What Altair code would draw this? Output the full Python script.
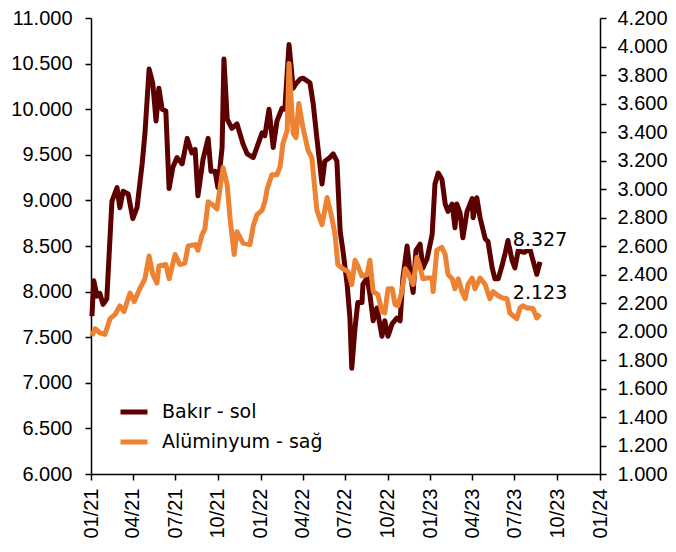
import altair as alt
import pandas as pd

# Copper (Bakır) - left axis, USD/ton
copper_dates = [
    "2021-01-03", "2021-01-07", "2021-01-14", "2021-01-20", "2021-01-27", "2021-02-04", "2021-02-15",
    "2021-02-26", "2021-03-04", "2021-03-11", "2021-03-22", "2021-04-01", "2021-04-10", "2021-04-21",
    "2021-04-27", "2021-05-06", "2021-05-14", "2021-05-21", "2021-05-27", "2021-06-03", "2021-06-11",
    "2021-06-18", "2021-06-26", "2021-07-05", "2021-07-16", "2021-07-27", "2021-08-06", "2021-08-13",
    "2021-08-19", "2021-08-30", "2021-09-10", "2021-09-16", "2021-09-25", "2021-10-01", "2021-10-10",
    "2021-10-14", "2021-10-21", "2021-10-31", "2021-11-11", "2021-11-24", "2021-12-03", "2021-12-16",
    "2022-01-04", "2022-01-10", "2022-01-19", "2022-01-28", "2022-02-05", "2022-02-16", "2022-02-22",
    "2022-03-03", "2022-03-12", "2022-03-18", "2022-03-27", "2022-04-02", "2022-04-11", "2022-04-17",
    "2022-04-24", "2022-05-02", "2022-05-13", "2022-05-19", "2022-05-30", "2022-06-06", "2022-06-14",
    "2022-06-21", "2022-06-27", "2022-07-06", "2022-07-12", "2022-07-16", "2022-07-23", "2022-07-29",
    "2022-08-07", "2022-08-09", "2022-08-18", "2022-08-24", "2022-08-31", "2022-09-08", "2022-09-19",
    "2022-09-25", "2022-10-02", "2022-10-11", "2022-10-21", "2022-10-28", "2022-11-03", "2022-11-12",
    "2022-11-18", "2022-11-25", "2022-12-01", "2022-12-10", "2022-12-16", "2022-12-25", "2023-01-05",
    "2023-01-11", "2023-01-18", "2023-01-26", "2023-02-02", "2023-02-08", "2023-02-17", "2023-02-23",
    "2023-02-27", "2023-03-06", "2023-03-12", "2023-03-21", "2023-04-01", "2023-04-03", "2023-04-11",
    "2023-04-18", "2023-04-29", "2023-05-05", "2023-05-14", "2023-05-20", "2023-05-27", "2023-06-04",
    "2023-06-11", "2023-06-17", "2023-06-26", "2023-07-02", "2023-07-09", "2023-07-15", "2023-07-22",
    "2023-08-03", "2023-08-10", "2023-08-18", "2023-08-25",
]
copper_values = [
    7730, 8120, 7950, 7980, 7860, 7920, 8990,
    9140, 8920, 9100, 9070, 8800, 8920, 9400,
    9730, 10440, 10280, 9870, 10230, 10000, 9980,
    9130, 9360, 9470, 9400, 9680, 9520, 9560,
    9050, 9450, 9680, 9320, 9320, 9140, 9580,
    10550, 9890, 9790, 9840, 9620, 9510, 9470,
    9740, 9710, 10000, 9580, 9870, 10010, 10000,
    10710, 10230, 10280, 10330, 10340, 10310, 10290,
    10060, 9680, 9180, 9430, 9470, 9510, 9430,
    8660, 8450, 8080, 7710, 7160, 7600, 7880,
    7880, 8080, 8150, 7970, 7680, 7820, 7510,
    7680, 7510, 7650, 7710, 7680, 8150, 8500,
    8230, 7990, 8450, 8520, 8260, 8360, 8630,
    9180, 9300, 9230, 8960, 8880, 8960, 8700,
    8960, 8860, 8590, 8880, 9020, 8810, 9030,
    8810, 8580, 8550, 8260, 8140, 8140, 8280,
    8420, 8560, 8340, 8260, 8450, 8440, 8430,
    8470, 8340, 8190, 8327,
]

# Aluminium (Alüminyum) - right axis, USD/ton
alu_dates = [
    "2021-01-03", "2021-01-10", "2021-01-20", "2021-01-31", "2021-02-11", "2021-02-22", "2021-03-04",
    "2021-03-13", "2021-03-26", "2021-04-04", "2021-04-16", "2021-04-27", "2021-05-06", "2021-05-14",
    "2021-05-23", "2021-05-27", "2021-06-11", "2021-06-18", "2021-07-01", "2021-07-11", "2021-07-22",
    "2021-07-29", "2021-08-13", "2021-08-19", "2021-08-28", "2021-09-03", "2021-09-10", "2021-09-14",
    "2021-09-20", "2021-09-29", "2021-10-12", "2021-10-21", "2021-10-27", "2021-10-31", "2021-11-05",
    "2021-11-11", "2021-11-24", "2021-12-09", "2021-12-16", "2021-12-24", "2022-01-04", "2022-01-10",
    "2022-01-15", "2022-01-25", "2022-02-05", "2022-02-12", "2022-02-18", "2022-02-27", "2022-03-03",
    "2022-03-12", "2022-03-18", "2022-03-24", "2022-04-02", "2022-04-13", "2022-04-21", "2022-05-02",
    "2022-05-13", "2022-05-24", "2022-06-03", "2022-06-10", "2022-06-16", "2022-06-27", "2022-07-08",
    "2022-07-16", "2022-07-23", "2022-07-29", "2022-08-07", "2022-08-18", "2022-08-24", "2022-08-31",
    "2022-09-10", "2022-09-19", "2022-09-25", "2022-10-02", "2022-10-11", "2022-10-17", "2022-10-23",
    "2022-11-01", "2022-11-08", "2022-11-14", "2022-11-25", "2022-12-03", "2022-12-10", "2022-12-16",
    "2022-12-25", "2023-01-05", "2023-01-07", "2023-01-15", "2023-01-26", "2023-02-02", "2023-02-08",
    "2023-02-17", "2023-02-23", "2023-03-02", "2023-03-10", "2023-03-17", "2023-03-23", "2023-04-01",
    "2023-04-07", "2023-04-18", "2023-04-29", "2023-05-09", "2023-05-16", "2023-05-27", "2023-06-06",
    "2023-06-15", "2023-06-21", "2023-06-28", "2023-07-06", "2023-07-13", "2023-07-19", "2023-07-28",
    "2023-08-03", "2023-08-10", "2023-08-18", "2023-08-25",
]
alu_values = [
    1970, 2020, 1990, 1980, 2090, 2120, 2180,
    2140, 2270, 2210, 2300, 2370, 2530, 2400,
    2340, 2460, 2470, 2370, 2540, 2470, 2480,
    2600, 2610, 2570, 2680, 2720, 2910, 2900,
    2890, 2860, 3150, 3030, 2800, 2680, 2540,
    2700, 2620, 2610, 2740, 2820, 2850, 2910,
    3000, 3100, 3100, 3160, 3320, 3410, 3880,
    3390, 3360, 3600, 3430, 3270, 3220, 2850,
    2750, 2940, 2800, 2680, 2470, 2440, 2420,
    2330, 2500, 2460, 2390, 2400, 2500, 2280,
    2260, 2140, 2130, 2300, 2300, 2190, 2180,
    2280, 2440, 2410, 2330, 2520, 2450, 2370,
    2375, 2375, 2280, 2570, 2590, 2540, 2400,
    2370, 2300, 2370, 2280, 2230, 2330, 2375,
    2300, 2375, 2330, 2230, 2280, 2250, 2235,
    2230, 2130, 2110, 2090, 2165, 2180, 2165,
    2165, 2160, 2095, 2123,
]

series_names = ["Bakır - sol", "Alüminyum - sağ"]
series_colors = ["#5C0000", "#EE8233"]

left_ticks = [6000, 6500, 7000, 7500, 8000, 8500, 9000, 9500, 10000, 10500, 11000]
right_ticks = [1000, 1200, 1400, 1600, 1800, 2000, 2200, 2400, 2600, 2800, 3000,
               3200, 3400, 3600, 3800, 4000, 4200]
x_tick_months = [(2021, 1), (2021, 4), (2021, 7), (2021, 10), (2022, 1), (2022, 4), (2022, 7),
                 (2022, 10), (2023, 1), (2023, 4), (2023, 7), (2023, 10), (2024, 1)]


def tr_num(v):
    return f"{v:,.0f}".replace(",", ".")


copper_df = pd.DataFrame({"date": copper_dates, "value": copper_values, "series": series_names[0]})
alu_df = pd.DataFrame({"date": alu_dates, "value": alu_values, "series": series_names[1]})
copper_last = pd.DataFrame({"date": [copper_dates[-1]], "value": [copper_values[-1]],
                            "label": [tr_num(copper_values[-1])]})
alu_last = pd.DataFrame({"date": [alu_dates[-1]], "value": [alu_values[-1]],
                         "label": [tr_num(alu_values[-1])]})

label_expr = "replace(format(datum.value, ',.0f'), ',', '.')"
x_values = [alt.DateTime(year=y, month=m, date=1) for y, m in x_tick_months]

x_enc = alt.X(
    "date:T",
    scale=alt.Scale(domain=[alt.DateTime(year=2021, month=1, date=1),
                            alt.DateTime(year=2024, month=1, date=1)]),
    axis=alt.Axis(values=x_values, format="%m/%y", labelAngle=270, title=None,
                  labelPadding=8, tickSize=6),
)

color_enc = alt.Color(
    "series:N",
    scale=alt.Scale(domain=series_names, range=series_colors),
    legend=alt.Legend(
        title=None, orient="none", legendX=27, legendY=378,
        symbolType="stroke", symbolStrokeWidth=5, symbolSize=729,
        labelFont="DejaVu Sans", labelFontSize=19, labelColor="black", labelLimit=400,
        labelOffset=12, rowPadding=4, padding=0,
    ),
)

left_axis = alt.Axis(values=left_ticks, labelExpr=label_expr, title=None, orient="left",
                     labelPadding=13, tickSize=6, labelOverlap=False)
right_axis = alt.Axis(values=right_ticks, labelExpr=label_expr, title=None, orient="right",
                      labelPadding=11, tickSize=6, labelOverlap=False, labelBound=False)
left_scale = alt.Scale(domain=[6000, 11000], nice=False, zero=False)
right_scale = alt.Scale(domain=[1000, 4200], nice=False, zero=False)

copper_line = alt.Chart(copper_df).mark_line(strokeWidth=5, strokeJoin="round").encode(
    x=x_enc,
    y=alt.Y("value:Q", scale=left_scale, axis=left_axis),
    color=color_enc,
)
copper_halo = alt.Chart(copper_last).mark_text(
    font="DejaVu Sans", fontSize=19, color="white", stroke="white", strokeWidth=6,
    dy=-22, align="center"
).encode(x="date:T", y=alt.Y("value:Q", scale=left_scale, axis=left_axis), text="label:N")
copper_text = alt.Chart(copper_last).mark_text(
    font="DejaVu Sans", fontSize=19, color="black", dy=-22, align="center"
).encode(x="date:T", y=alt.Y("value:Q", scale=left_scale, axis=left_axis), text="label:N")

alu_line = alt.Chart(alu_df).mark_line(strokeWidth=5, strokeJoin="round").encode(
    x=x_enc,
    y=alt.Y("value:Q", scale=right_scale, axis=right_axis),
    color=color_enc,
)
alu_text = alt.Chart(alu_last).mark_text(
    font="DejaVu Sans", fontSize=19, color="black", dy=-21, align="center"
).encode(x="date:T", y=alt.Y("value:Q", scale=right_scale, axis=right_axis), text="label:N")

chart = alt.layer(
    alt.layer(copper_line, copper_halo, copper_text),
    alt.layer(alu_line, alu_text),
).resolve_scale(y="independent").properties(
    width=509, height=456,
    autosize=alt.AutoSizeParams(type="none"),
    padding={"left": 83, "top": 10, "right": 68, "bottom": 69},
).configure_view(stroke=None).configure_axis(
    grid=False, domainColor="black", domainWidth=1.5, tickColor="black", tickWidth=1.5,
    labelFont="Liberation Sans", labelFontSize=20, labelColor="black", labelOverlap=False,
)

chart.save("out.html", embed_options={"renderer": "svg", "actions": False})
